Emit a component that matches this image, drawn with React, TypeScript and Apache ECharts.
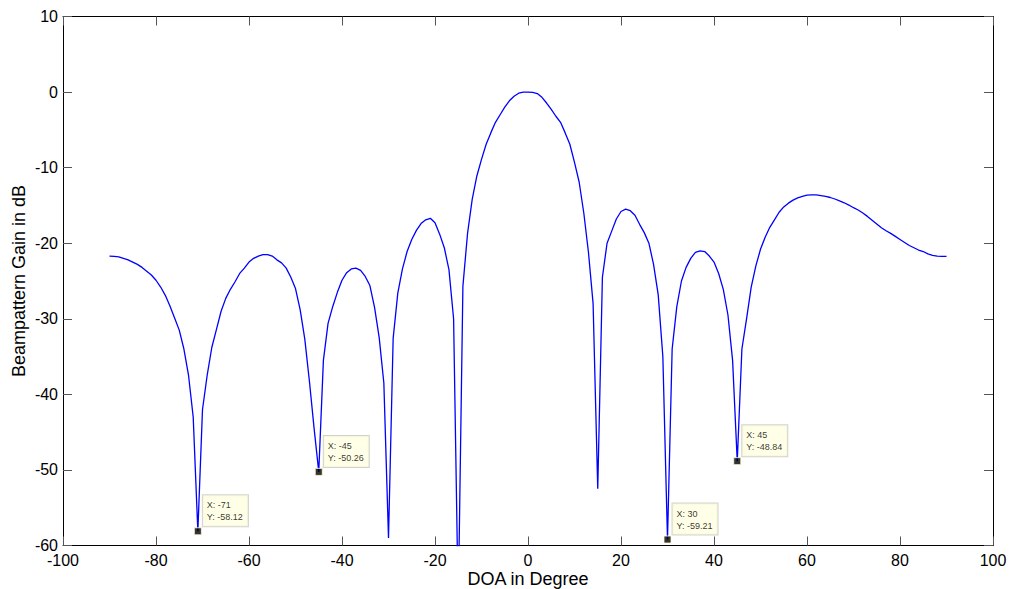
import React, { useEffect, useRef } from "react";
import * as echarts from "echarts";

// Beampattern sampled every degree from -90° to 90°
const DOA_START = -90;
const DOA_STEP = 1;

const gainDb = [
  -21.7, -21.75, -21.8, -22.0, -22.2, -22.5, -22.8, -23.2, -23.7, -24.2,
  -24.9, -25.8, -26.9, -28.3, -29.9, -31.5, -34.0, -37.5, -43.0, -58.12,
  -42.0, -37.5, -33.8, -31.4, -29.0, -27.3, -26.1, -25.1, -24.0, -23.3,
  -22.5, -22.0, -21.7, -21.5, -21.5, -21.7, -22.2, -22.6, -23.3, -24.5,
  -26.0, -28.8, -32.7, -38.3, -44.5, -50.26, -35.5, -30.6, -28.4, -26.5,
  -24.9, -23.9, -23.4, -23.3, -23.6, -24.4, -25.6, -28.5, -32.5, -38.5,
  -59.0, -32.6, -26.6, -23.4, -21.1, -19.5, -18.3, -17.4, -16.9, -16.7,
  -17.3, -18.8, -20.6, -23.5, -30.0, -68.0, -25.7, -18.7, -14.2, -11.1,
  -8.9, -6.9, -5.4, -4.0, -3.0, -2.0, -1.15, -0.55, -0.15, -0.02,
  0, -0.05, -0.2, -0.7, -1.45, -2.3, -3.2, -4.0, -5.4, -6.9,
  -9.3, -11.9, -16.0, -21.2, -28.0, -52.5, -24.5, -20.0, -18.4, -16.8,
  -15.8, -15.5, -15.7, -16.3, -17.5, -18.6, -20.0, -22.8, -26.8, -35.0,
  -59.21, -34.0, -28.4, -25.0, -23.2, -22.0, -21.2, -21.0, -21.1, -21.7,
  -22.5, -24.0, -26.1, -29.5, -35.5, -48.84, -34.0, -30.0, -25.8, -23.0,
  -20.8, -19.2, -17.9, -16.9, -15.9, -15.2, -14.7, -14.3, -14.0, -13.8,
  -13.65, -13.6, -13.6, -13.7, -13.8, -13.95, -14.15, -14.4, -14.65, -14.95,
  -15.3, -15.6, -16.0, -16.45, -16.95, -17.45, -17.95, -18.35, -18.7, -19.1,
  -19.5, -19.9, -20.3, -20.6, -20.9, -21.1, -21.4, -21.6, -21.7, -21.75,
  -21.75,
];

// Directions marked with data cursors
const tipDoa = [-71, -45, 30, 45];

const FONT = "'Liberation Sans', Arial, Helvetica, sans-serif";

export default function App() {
  const ref = useRef<HTMLDivElement>(null);

  useEffect(() => {
    if (!ref.current) return;
    const chart = echarts.init(ref.current, null, { renderer: "svg" });

    const lineData = gainDb.map((g, i) => [DOA_START + i * DOA_STEP, g]);
    const tipData = tipDoa.map((d) => [d, gainDb[(d - DOA_START) / DOA_STEP]]);

    const axisLine = { show: true, onZero: false, lineStyle: { color: "#000", width: 1 } };
    const innerTick = { show: true, inside: true, length: 9, lineStyle: { color: "#555", width: 1 } };

    chart.setOption({
      animation: false,
      backgroundColor: "#fff",
      grid: {
        left: 63,
        right: 17,
        top: 16.5,
        bottom: 43.5,
        containLabel: false,
        outerBoundsMode: "none",
      },
      xAxis: [
        {
          type: "value",
          min: -100,
          max: 100,
          interval: 20,
          position: "bottom",
          axisLine,
          axisTick: innerTick,
          splitLine: { show: false },
          axisLabel: { color: "#000", fontSize: 16, fontFamily: FONT, margin: 7 },
          name: "DOA in Degree",
          nameLocation: "middle",
          nameGap: 24,
          nameMoveOverlap: false,
          nameTextStyle: { color: "#000", fontSize: 18, fontFamily: FONT },
        },
        {
          type: "value",
          min: -100,
          max: 100,
          interval: 20,
          position: "top",
          axisLine,
          axisTick: innerTick,
          splitLine: { show: false },
          axisLabel: { show: false },
        },
      ],
      yAxis: [
        {
          type: "value",
          min: -60,
          max: 10,
          interval: 10,
          position: "left",
          axisLine,
          axisTick: innerTick,
          splitLine: { show: false },
          axisLabel: { color: "#000", fontSize: 16, fontFamily: FONT, margin: 5 },
          name: "Beampattern Gain in dB",
          nameLocation: "middle",
          nameGap: 35,
          nameMoveOverlap: false,
          nameTextStyle: { color: "#000", fontSize: 18, fontFamily: FONT },
        },
        {
          type: "value",
          min: -60,
          max: 10,
          interval: 10,
          position: "right",
          axisLine,
          axisTick: innerTick,
          splitLine: { show: false },
          axisLabel: { show: false },
        },
      ],
      series: [
        {
          type: "line",
          data: lineData,
          xAxisIndex: 0,
          yAxisIndex: 0,
          showSymbol: false,
          clip: true,
          lineStyle: { color: "#0000ff", width: 1.3 },
          z: 2,
        },
        {
          type: "scatter",
          data: tipData,
          xAxisIndex: 0,
          yAxisIndex: 0,
          symbol: "rect",
          symbolSize: 7,
          itemStyle: { color: "#000", borderColor: "#fffbd0", borderWidth: 1 },
          z: 5,
          label: {
            show: true,
            position: [9, -32],
            align: "left",
            verticalAlign: "top",
            formatter: (p: any) => `X: ${p.value[0]}\nY: ${Number(p.value[1]).toFixed(2)}`,
            color: "#000",
            fontSize: 9,
            lineHeight: 12,
            fontFamily: FONT,
            backgroundColor: "#ffffe1",
            borderColor: "#c8c8c0",
            borderWidth: 1,
            padding: [4, 5, 3, 4],
          },
        },
      ],
    });

    return () => chart.dispose();
  }, []);

  return (
    <div
      ref={ref}
      style={{ position: "fixed", left: 0, top: 0, width: 1010, height: 589, background: "#fff" }}
    />
  );
}
